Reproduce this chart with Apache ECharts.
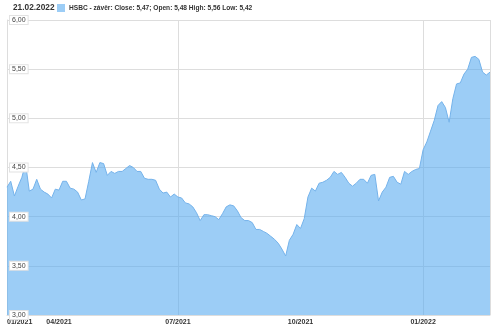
<!DOCTYPE html>
<html>
<head>
<meta charset="utf-8">
<script src="https://cdn.jsdelivr.net/npm/echarts@6/dist/echarts.min.js"></script>
<style>html,body{margin:0;padding:0;background:#fff}#c{width:500px;height:330px}</style>
</head>
<body>
<div id="c"></div>
<script>
// Closing prices, every other trading day from 22.02.2021 to 21.02.2022
const values = [
4.30,4.36,4.21,4.31,4.40,4.54,4.26,4.28,4.38,4.28,
4.25,4.23,4.19,4.28,4.27,4.36,4.36,4.29,4.28,4.25,
4.17,4.18,4.36,4.55,4.45,4.55,4.54,4.42,4.46,4.44,
4.46,4.46,4.49,4.52,4.50,4.46,4.46,4.39,4.38,4.38,
4.37,4.28,4.24,4.25,4.20,4.23,4.20,4.19,4.14,4.13,
4.10,4.04,3.96,4.02,4.02,4.01,4.00,3.97,4.03,4.10,
4.12,4.11,4.06,3.99,3.96,3.96,3.94,3.87,3.87,3.85,
3.83,3.80,3.77,3.73,3.67,3.60,3.76,3.82,3.92,3.88,
3.98,4.20,4.29,4.26,4.34,4.35,4.37,4.40,4.46,4.43,
4.45,4.40,4.34,4.31,4.34,4.38,4.38,4.34,4.42,4.43,
4.16,4.25,4.30,4.40,4.41,4.35,4.33,4.46,4.43,4.46,
4.48,4.49,4.68,4.76,4.87,4.98,5.13,5.17,5.11,4.96,
5.20,5.35,5.36,5.45,5.50,5.62,5.63,5.60,5.47,5.44,
5.47
];
const startDate = '2021-02-22';
const tickTargets = ['2021-02-22','2021-04-01','2021-07-01','2021-10-01','2022-01-01'];
const tickLabels = ['01/2021','04/2021','07/2021','10/2021','01/2022'];
const gridTickLabels = ['07/2021','01/2022'];
const headerDate = '21.02.2022';
const seriesName = 'HSBC - závěr: Close: 5,47; Open: 5,48 High: 5,56 Low: 5,42';

// categories: every other weekday starting at startDate
const categories = [];
{
  let d = new Date(startDate + 'T00:00:00Z');
  let k = 0;
  while (categories.length < values.length) {
    const wd = d.getUTCDay();
    if (wd !== 0 && wd !== 6) {
      if (k % 2 === 0) categories.push(d.toISOString().slice(0, 10));
      k++;
    }
    d = new Date(d.getTime() + 86400000);
  }
}
const tickIndex = tickTargets.map(t => {
  const tt = new Date(t + 'T00:00:00Z').getTime();
  let best = 0, bd = Infinity;
  categories.forEach((c, i) => {
    const dd = Math.abs(new Date(c + 'T00:00:00Z').getTime() - tt);
    if (dd < bd) { bd = dd; best = i; }
  });
  return best;
});
const gridIdx = gridTickLabels.map(l => tickIndex[tickLabels.indexOf(l)]).concat([categories.length - 1]);
const fmtY = v => v.toFixed(2).replace('.', ',');

const chart = echarts.init(document.getElementById('c'), null, {renderer: 'canvas'});
chart.setOption({
  animation: false,
  title: {
    text: headerDate, left: 13, top: 4, padding: 0,
    textStyle: {fontFamily: 'Liberation Sans', fontSize: 8.3, fontWeight: 'bold', color: '#333'}
  },
  legend: {
    left: 57, top: 4, padding: 0, itemWidth: 8, itemHeight: 8, itemGap: 4, icon: 'rect',
    data: [{name: seriesName, itemStyle: {color: '#9ccdf6', borderWidth: 0}}],
    textStyle: {fontFamily: 'Liberation Sans', fontSize: 6.6, fontWeight: 'bold', color: '#333', padding: [0,0,0,-1]}
  },
  grid: {left: 7, right: 10, top: 20, bottom: 15, containLabel: false},
  xAxis: {
    type: 'category', data: categories, boundaryGap: false,
    axisLine: {show: true, lineStyle: {color: '#ddd'}},
    axisTick: {show: false},
    axisLabel: {
      interval: (i) => tickIndex.includes(i),
      formatter: (v, i) => { const j = tickIndex.indexOf(i); return j >= 0 ? tickLabels[j] : ''; },
      fontFamily: 'Liberation Sans', fontSize: 7, fontWeight: 'bold', color: '#333', margin: 4,
      alignMinLabel: 'left'
    },
    splitLine: {show: true, interval: (i) => gridIdx.includes(i), lineStyle: {color: '#ddd', width: 1}}
  },
  yAxis: [{
    type: 'value', min: 3, max: 6, interval: 0.5,
    axisLine: {show: true, lineStyle: {color: '#ddd'}},
    axisTick: {show: false},
    axisLabel: {show: false},
    splitLine: {show: true, lineStyle: {color: '#ddd', width: 1}}
  }, {
    type: 'value', min: 3, max: 6, interval: 0.5, position: 'left', z: 10,
    axisLine: {show: false}, axisTick: {show: false}, splitLine: {show: false},
    axisLabel: {
      inside: true, margin: 3, formatter: fmtY,
      fontFamily: 'Liberation Sans', fontSize: 7, color: '#444',
      backgroundColor: '#fff', borderColor: '#e2e2e2', borderWidth: 1, padding: [1, 2, 0, 2]
    }
  }],
  series: [{
    name: seriesName, type: 'line', data: values, yAxisIndex: 0,
    symbol: 'none', smooth: false,
    itemStyle: {color: '#9ccdf6'},
    lineStyle: {color: '#74b2ea', width: 1},
    areaStyle: {color: 'rgba(90,172,240,0.6)', opacity: 1}
  }]
});
</script>
</body>
</html>
